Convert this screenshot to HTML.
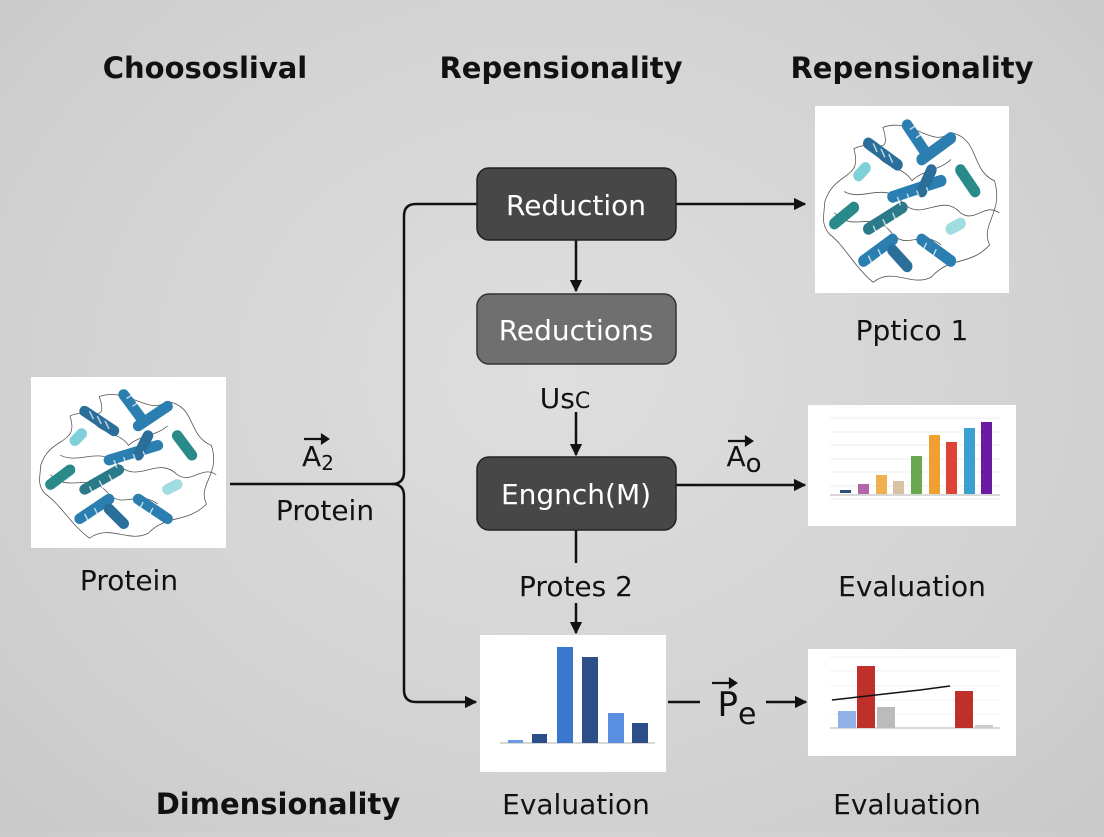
<!DOCTYPE html>
<html><head><style>
html,body{margin:0;padding:0}
body{width:1104px;height:832px;overflow:hidden;background:radial-gradient(ellipse at 50% 45%,#dedede 0%,#d3d3d3 60%,#c9c9c9 100%);font-family:"Liberation Sans","DejaVu Sans",sans-serif}
svg text{font-family:"DejaVu Sans","Liberation Sans",sans-serif}
</style></head><body>
<svg width="1104" height="832" viewBox="0 0 1104 832" xmlns="http://www.w3.org/2000/svg">
<defs>
<marker id="ar" viewBox="0 0 10 10" refX="9" refY="5" markerWidth="5" markerHeight="5" orient="auto"><path d="M0,0 L10,5 L0,10 z" fill="#111"/></marker>
<symbol id="prot" viewBox="0 0 200 175" preserveAspectRatio="none">
<rect width="200" height="175" fill="#fff"/>
<g fill="none" stroke="#555" stroke-width="0.8">
<path d="M10,90 C20,60 50,70 40,40 C60,30 80,50 70,20 C100,10 120,40 140,25 C170,30 160,60 185,70 C195,100 170,110 180,130 C160,150 140,140 120,160 C100,170 80,150 60,165 C40,150 30,130 15,120 C5,110 10,100 10,90Z"/>
<path d="M30,80 C50,90 70,70 90,90 C110,110 130,80 150,100 C165,110 175,90 190,100"/>
<path d="M20,100 C40,120 60,95 80,120 C95,135 110,115 130,130"/>
<path d="M60,40 C70,60 90,55 100,70 C110,60 130,60 140,50"/>
</g>
<g stroke-linecap="round" fill="none" stroke-width="11">
<path d="M55,35 L85,55" stroke="#2a6f9a"/>
<path d="M95,18 L115,45" stroke="#2a7fb0"/>
<path d="M110,50 L140,30" stroke="#2a7fb0"/>
<path d="M150,60 L165,80" stroke="#2a8a8a"/>
<path d="M20,110 L40,95" stroke="#2a8a8a"/>
<path d="M55,115 L90,95" stroke="#2a7a8a"/>
<path d="M80,85 L130,70" stroke="#2a7fb0"/>
<path d="M110,80 L120,60" stroke="#2a6f9a"/>
<path d="M50,145 L80,125" stroke="#2a7fb0"/>
<path d="M80,135 L95,150" stroke="#2a6f9a"/>
<path d="M110,125 L140,145" stroke="#2a7fb0"/>
<path d="M45,65 L52,58" stroke="#7fd0d8"/>
<path d="M140,115 L150,110" stroke="#a0dde0"/>
</g>
<g stroke="#fff" stroke-width="1.5" opacity="0.7">
<path d="M60,35 l4,8 M68,40 l4,8 M76,45 l4,8 M98,22 l6,-4 M104,30 l6,-4 M85,85 l3,8 M95,82 l3,8 M105,79 l3,8 M115,76 l3,8 M60,112 l4,8 M70,106 l4,8 M80,100 l4,8 M55,140 l4,8 M65,134 l4,8 M115,128 l-4,8 M125,134 l-4,8"/>
</g>
</symbol>
</defs>

<g font-weight="bold" font-size="29" fill="#111" text-anchor="middle">
<text x="205" y="78">Choososlival</text>
<text x="561" y="78">Repensionality</text>
<text x="912" y="78">Repensionality</text>
<text x="278" y="814">Dimensionality</text>
</g>

<use href="#prot" x="31" y="377" width="195" height="171"/>
<use href="#prot" x="815" y="106" width="194" height="187"/>

<g stroke="#111" stroke-width="2.5" fill="none">
<path d="M230,484 L392,484 Q404,484 404,472 L404,216 Q404,204 416,204 L477,204"/>
<path d="M392,484 Q404,484 404,496 L404,690 Q404,702 416,702 L476,702" marker-end="url(#ar)"/>
<path d="M676,204 L805,204" marker-end="url(#ar)"/>
<path d="M576,240 L576,291" marker-end="url(#ar)"/>
<path d="M576,412 L576,455" marker-end="url(#ar)"/>
<path d="M676,485 L805,485" marker-end="url(#ar)"/>
<path d="M576,530 L576,563"/>
<path d="M576,603 L576,633" marker-end="url(#ar)"/>
<path d="M668,702 L700,702"/>
<path d="M766,702 L806,702" marker-end="url(#ar)"/>
</g>

<rect x="477" y="168" width="199" height="72" rx="12" fill="#474747" stroke="#222" stroke-width="1.5"/>
<rect x="477" y="294" width="199" height="70" rx="12" fill="#6f6f6f" stroke="#333" stroke-width="1.5"/>
<rect x="477" y="457" width="199" height="73" rx="12" fill="#474747" stroke="#222" stroke-width="1.5"/>
<g fill="#fff" font-size="28" text-anchor="middle">
<text x="576" y="215">Reduction</text>
<text x="576" y="340">Reductions</text>
<text x="576" y="504">Engnch(M)</text>
</g>

<g fill="#111" font-size="28" text-anchor="middle">
<text x="129" y="590">Protein</text>
<text x="325" y="520">Protein</text>
<text x="912" y="340">Pptico 1</text>
<text x="576" y="596">Protes 2</text>
<text x="912" y="596">Evaluation</text>
<text x="576" y="814">Evaluation</text>
<text x="907" y="814">Evaluation</text>
<text x="565" y="408">Us<tspan font-size="22">C</tspan></text>
<text x="318" y="466">A<tspan font-size="20" dy="4">2</tspan></text>
<text x="744" y="466" font-size="28">A<tspan font-size="26" dy="6">o</tspan></text>
<text x="737" y="716" font-size="34">P<tspan font-size="30" dy="8">e</tspan></text>
</g>
<g stroke="#111" stroke-width="2.2" fill="#111">
<path d="M304,439 L328,439"/><path d="M328,439 l-6,-4 v8z"/>
<path d="M728,441 L752,441"/><path d="M752,441 l-6,-4 v8z"/>
<path d="M712,683 L736,683"/><path d="M736,683 l-6,-4 v8z"/>
</g>

<!-- chart mid right -->
<rect x="808" y="405" width="208" height="121" fill="#fff"/>
<g stroke="#ddd" stroke-width="0.6"><path d="M830,418H1000M830,432H1000M830,445H1000M830,459H1000M830,472H1000M830,486H1000M830,499H1000"/></g>
<path d="M830,495H1000" stroke="#999" stroke-width="0.8"/>
<rect x="840" y="490" width="11" height="3" fill="#2c4f7a"/>
<rect x="858" y="484" width="11" height="10" fill="#b466a8"/>
<rect x="876" y="475" width="11" height="19" fill="#f0b050"/>
<rect x="893" y="481" width="11" height="13" fill="#d9c2a4"/>
<rect x="911" y="456" width="11" height="38" fill="#6aa84f"/>
<rect x="929" y="435" width="11" height="59" fill="#f0a030"/>
<rect x="946" y="442" width="11" height="52" fill="#dd4433"/>
<rect x="964" y="428" width="11" height="66" fill="#3aa0cf"/>
<rect x="981" y="422" width="11" height="72" fill="#6a1aa0"/>

<!-- chart bottom center -->
<rect x="480" y="635" width="186" height="137" fill="#fff"/>
<path d="M500,743H655" stroke="#999" stroke-width="0.8"/>
<rect x="508" y="740" width="15" height="3" fill="#6a9de0"/>
<rect x="532" y="734" width="15" height="9" fill="#2c4f8a"/>
<rect x="557" y="647" width="16" height="96" fill="#3a78d0"/>
<rect x="582" y="657" width="16" height="86" fill="#2c4f8a"/>
<rect x="608" y="713" width="16" height="30" fill="#5a8ee0"/>
<rect x="632" y="723" width="16" height="20" fill="#2c4f8a"/>

<!-- chart bottom right -->
<rect x="808" y="649" width="208" height="107" fill="#fff"/>
<g stroke="#e2e2e2" stroke-width="0.6"><path d="M830,657H1000M830,671H1000M830,686H1000M830,700H1000M830,714H1000"/></g>
<path d="M830,728H1000" stroke="#999" stroke-width="0.8"/>
<rect x="838" y="711" width="18" height="17" fill="#90b0e8"/>
<rect x="857" y="666" width="18" height="62" fill="#c0302a"/>
<rect x="877" y="707" width="18" height="21" fill="#bbbbbb"/>
<rect x="955" y="691" width="18" height="37" fill="#c0302a"/>
<rect x="975" y="725" width="18" height="3" fill="#ccc"/>
<path d="M832,700 L920,690 L950,686" stroke="#111" stroke-width="1.5" fill="none"/>
</svg>
</body></html>
